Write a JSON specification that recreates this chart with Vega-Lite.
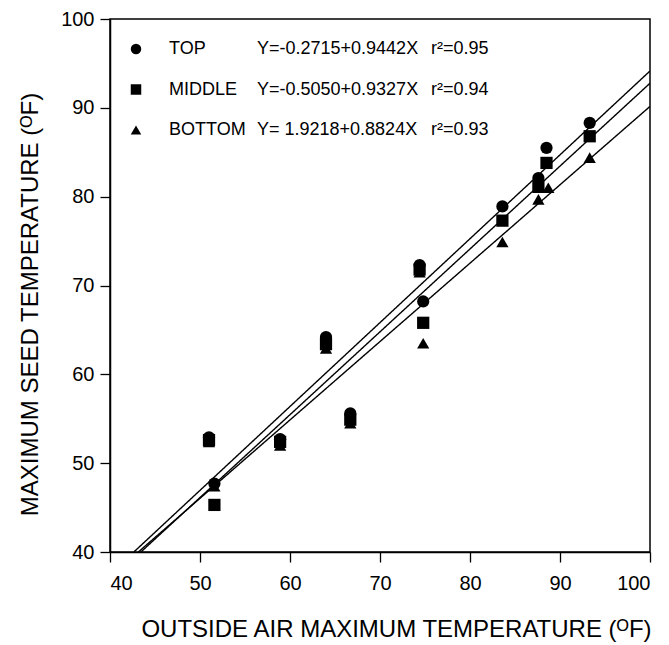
{
  "$schema": "https://vega.github.io/schema/vega-lite/v6.json",
  "autosize": "none",
  "width": 540,
  "height": 533,
  "padding": {"left": 110, "top": 19, "right": 19, "bottom": 93},
  "background": "white",
  "config": {
    "font": "Liberation Sans",
    "view": {"stroke": "black", "strokeWidth": 1.5},
    "axis": {
      "grid": false,
      "domainColor": "black",
      "domainWidth": 1.5,
      "tickColor": "black",
      "tickWidth": 1.3,
      "tickSize": 10,
      "labelColor": "black",
      "labelFontSize": 20,
      "labelFont": "Liberation Sans",
      "titleColor": "black",
      "titleFontSize": 24,
      "titleFontWeight": "normal",
      "titleFont": "Liberation Sans"
    },
    "legend": {
      "labelFont": "Liberation Sans",
      "labelFontSize": 18,
      "labelColor": "black",
      "padding": 0,
      "rowPadding": 22.5
    }
  },
  "datasets": {
    "points": [
      {"x": 51.0, "series": "BOTTOM", "y": 52.4},
      {"x": 51.0, "series": "MIDDLE", "y": 52.6},
      {"x": 51.0, "series": "TOP", "y": 52.9},
      {"x": 51.6, "series": "BOTTOM", "y": 47.4},
      {"x": 51.6, "series": "MIDDLE", "y": 45.3},
      {"x": 51.6, "series": "TOP", "y": 47.7},
      {"x": 58.9, "series": "BOTTOM", "y": 52.0},
      {"x": 58.9, "series": "MIDDLE", "y": 52.4},
      {"x": 58.9, "series": "TOP", "y": 52.7},
      {"x": 64.0, "series": "BOTTOM", "y": 62.9},
      {"x": 64.0, "series": "MIDDLE", "y": 63.4},
      {"x": 64.0, "series": "TOP", "y": 64.2},
      {"x": 66.7, "series": "BOTTOM", "y": 54.5},
      {"x": 66.7, "series": "MIDDLE", "y": 54.9},
      {"x": 66.7, "series": "TOP", "y": 55.6},
      {"x": 74.4, "series": "BOTTOM", "y": 71.5},
      {"x": 74.4, "series": "MIDDLE", "y": 71.8},
      {"x": 74.4, "series": "TOP", "y": 72.3},
      {"x": 74.8, "series": "BOTTOM", "y": 63.5},
      {"x": 74.8, "series": "MIDDLE", "y": 65.8},
      {"x": 74.8, "series": "TOP", "y": 68.2},
      {"x": 83.6, "series": "BOTTOM", "y": 74.9},
      {"x": 83.6, "series": "MIDDLE", "y": 77.3},
      {"x": 83.6, "series": "TOP", "y": 78.9},
      {"x": 87.6, "series": "BOTTOM", "y": 79.7},
      {"x": 87.6, "series": "MIDDLE", "y": 81.1},
      {"x": 87.6, "series": "TOP", "y": 82.1},
      {"x": 88.7, "series": "BOTTOM", "y": 81.0},
      {"x": 88.5, "series": "MIDDLE", "y": 83.8},
      {"x": 88.5, "series": "TOP", "y": 85.5},
      {"x": 93.3, "series": "BOTTOM", "y": 84.4},
      {"x": 93.3, "series": "MIDDLE", "y": 86.8},
      {"x": 93.3, "series": "TOP", "y": 88.3}
    ],
    "fits": [
      {"fit": "TOP", "eq": "Y=-0.2715+0.9442X", "r2": "r²=0.95", "x": 42.65, "y": 40.0},
      {"fit": "TOP", "eq": "Y=-0.2715+0.9442X", "r2": "r²=0.95", "x": 100, "y": 94.15},
      {"fit": "MIDDLE", "eq": "Y=-0.5050+0.9327X", "r2": "r²=0.94", "x": 43.43, "y": 40.0},
      {"fit": "MIDDLE", "eq": "Y=-0.5050+0.9327X", "r2": "r²=0.94", "x": 100, "y": 92.77},
      {"fit": "BOTTOM", "eq": "Y= 1.9218+0.8824X", "r2": "r²=0.93", "x": 43.15, "y": 40.0},
      {"fit": "BOTTOM", "eq": "Y= 1.9218+0.8824X", "r2": "r²=0.93", "x": 100, "y": 90.16}
    ]
  },
  "encoding": {
    "x": {
      "field": "x",
      "type": "quantitative",
      "scale": {"domain": [40, 100], "nice": false, "zero": false},
      "axis": {"values": [40, 50, 60, 70, 80, 90, 100], "title": "OUTSIDE AIR MAXIMUM TEMPERATURE (ᴼF)", "labelPadding": 11, "titlePadding": 24, "titleX": 286}
    },
    "y": {
      "field": "y",
      "type": "quantitative",
      "scale": {"domain": [40, 100], "nice": false, "zero": false},
      "axis": {"values": [40, 50, 60, 70, 80, 90, 100], "title": "MAXIMUM SEED TEMPERATURE (ᴼF)", "labelPadding": 6, "titlePadding": 18, "titleY": 285}
    }
  },
  "layer": [
    {
      "data": {"name": "fits"},
      "mark": {"type": "line", "strokeWidth": 1.4, "clip": true},
      "encoding": {
        "detail": {"field": "fit", "type": "nominal"},
        "color": {
          "field": "eq",
          "type": "nominal",
          "scale": {"domain": ["Y=-0.2715+0.9442X", "Y=-0.5050+0.9327X", "Y= 1.9218+0.8824X"], "range": ["black", "black", "black"]},
          "legend": {"title": null, "orient": "none", "legendX": 129, "legendY": 21, "symbolSize": 0, "symbolOpacity": 0, "symbolStrokeWidth": 0, "labelOffset": 0, "labelLimit": 400}
        },
        "strokeDash": {
          "field": "r2",
          "type": "nominal",
          "scale": {"domain": ["r²=0.95", "r²=0.94", "r²=0.93"], "range": [[1, 0], [1, 0], [1, 0]]},
          "legend": {"title": null, "orient": "none", "legendX": 303, "legendY": 21, "symbolSize": 0, "symbolOpacity": 0, "symbolStrokeWidth": 0, "labelOffset": 0}
        }
      }
    },
    {
      "data": {"name": "points"},
      "mark": {"type": "point", "filled": true, "color": "black", "opacity": 1, "size": 150},
      "encoding": {
        "shape": {
          "field": "series",
          "type": "nominal",
          "scale": {"domain": ["TOP", "MIDDLE", "BOTTOM"], "range": ["circle", "square", "triangle-up"]},
          "legend": {"title": null, "orient": "none", "legendX": 17, "legendY": 21, "symbolSize": 110, "symbolFillColor": "black", "symbolStrokeColor": "black", "labelOffset": 24}
        }
      }
    }
  ]
}
